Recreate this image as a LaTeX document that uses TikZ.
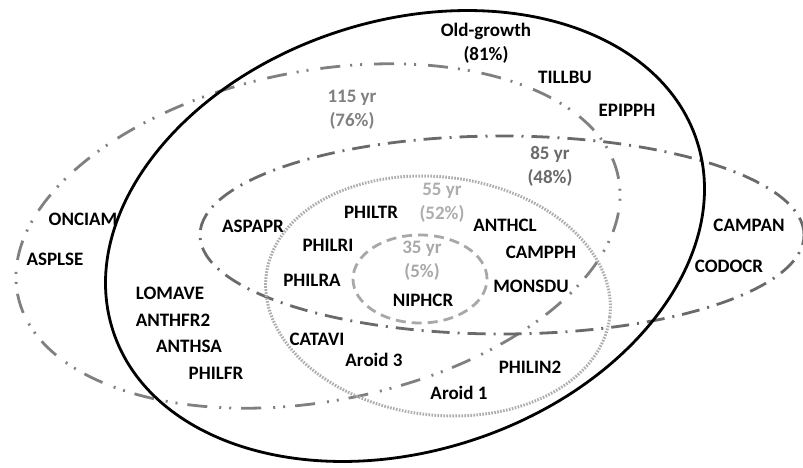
\documentclass[tikz,border=0pt]{standalone}
\usepackage{fontspec}
\setmainfont{Carlito}
\definecolor{gOne}{HTML}{808080}
\definecolor{gTwo}{HTML}{6A6A6A}
\definecolor{gThree}{HTML}{ADADAD}
\definecolor{gFour}{HTML}{A8A8A8}
\begin{document}
\begin{tikzpicture}[x=1pt,y=-1pt,
  lbl/.style={font=\bfseries\fontsize{19}{24}\selectfont, inner sep=0pt, align=center, text=black},
  oldline/.style={draw=black, line width=2.8pt},
  line115/.style={draw=gOne, line width=2.8pt, dash pattern=on 20pt off 12pt on 2pt off 8pt on 2pt off 10pt},
  line85/.style={draw=gTwo, line width=2.8pt, dash pattern=on 18pt off 8pt on 2pt off 8pt},
  line55/.style={draw=gThree, line width=3pt, dash pattern=on 1.6pt off 1.4pt},
  line35/.style={draw=gFour, line width=2.8pt, dash pattern=on 10pt off 6pt}]
\useasboundingbox (0,0) rectangle (803,468);
% ellipses
\draw[line115, shift={(318,236)}, rotate=11] (0,0) ellipse [x radius=306pt, y radius=165pt];
\draw[line85, shift={(502,235)}] (0,0) ellipse [x radius=302pt, y radius=99pt];
\draw[line55, shift={(438,296)}, rotate=-7] (0,0) ellipse [x radius=173pt, y radius=119pt];
\draw[line35, shift={(420,279)}] (0,0) ellipse [x radius=67pt, y radius=44pt];
\draw[oldline, shift={(405,236)}, rotate=18] (0,0) ellipse [x radius=307pt, y radius=215pt];
% group labels
\node[lbl] (og) at (486,43) {Old-growth\\(81\%)};
\node[lbl, text=gOne] (y115) at (352,110) {115 yr\\(76\%)};
\node[lbl, text=gTwo] (y85) at (550,166) {85 yr\\(48\%)};
\node[lbl, text=gThree] (y55) at (442,203) {55 yr\\(52\%)};
\node[lbl, text=gFour] (y35) at (422,261) {35 yr\\(5\%)};
% species
\node[lbl] (tillbu) at (565,77) {TILLBU};
\node[lbl] (epipph) at (627,110) {EPIPPH};
\node[lbl] (oncian) at (83,219) {ONCIAM};
\node[lbl] (asplse) at (55,259) {ASPLSE};
\node[lbl] (aspapr) at (253,226) {ASPAPR};
\node[lbl] (philtr) at (371,212) {PHILTR};
\node[lbl] (philri) at (328,245) {PHILRI};
\node[lbl] (philra) at (312,280) {PHILRA};
\node[lbl] (anthcl) at (505,225) {ANTHCL};
\node[lbl] (camppH) at (541,252) {CAMPPH};
\node[lbl] (monsdu) at (531,286) {MONSDU};
\node[lbl] (niphcr) at (423,300) {NIPHCR};
\node[lbl] (campan) at (749,225) {CAMPAN};
\node[lbl] (codocr) at (729,266) {CODOCR};
\node[lbl] (lomave) at (170,293) {LOMAVE};
\node[lbl] (anthfr) at (173,320) {ANTHFR2};
\node[lbl] (anthsa) at (189,346) {ANTHSA};
\node[lbl] (philfr) at (216,373) {PHILFR};
\node[lbl] (catavi) at (317,339) {CATAVI};
\node[lbl] (aroidc) at (374,360) {Aroid 3};
\node[lbl] (philin) at (530,367) {PHILIN2};
\node[lbl] (aroida) at (459,393) {Aroid 1};
\end{tikzpicture}
\end{document}
